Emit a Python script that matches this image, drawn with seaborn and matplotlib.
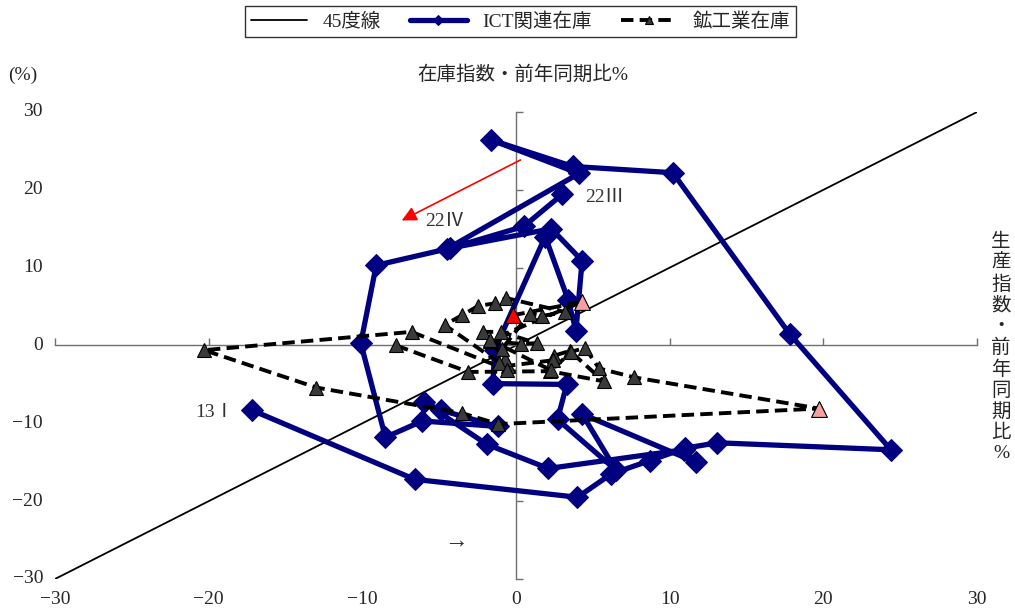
import numpy as np
import pandas as pd
import matplotlib
matplotlib.use("Agg")
import matplotlib.pyplot as plt
import seaborn as sns

# ICT関連在庫 (x: 生産指数 前年同期比, y: 在庫指数 前年同期比), 13I -> 22III
ict_x = [-17.2, -6.6, 4.0, 6.2, 8.7, 11.0, 13.1, 24.4, 17.8, 10.2,
         3.7, -1.6, 4.1, -4.5, -9.1, -10.1, -8.5, -6.1, -1.2, -4.9,
         -6.0, -1.9, 2.1, 10.9, 11.7, 4.3, 6.5, 2.7, 3.3, -1.5,
         -1.4, 1.9, 3.4, 3.9, 4.3, 2.3, -4.3, 0.5, 3.0]
ict_y = [-8.3, -17.2, -19.5, -16.5, -14.8, -13.2, -12.5, -13.4, 1.5, 22.2,
         23.0, 26.4, 22.1, 12.4, 10.3, 0.3, -11.8, -9.7, -10.4, -8.3,
         -7.3, -12.7, -15.8, -13.4, -15.0, -8.8, -16.0, -9.5, -5.0, -4.9,
         -0.6, 14.0, 5.8, 1.9, 10.9, 15.0, 12.5, 15.3, 19.4]

# 鉱工業在庫
min_x = [-7.8, -3.1, 2.2, 5.7, 3.5, 2.5, 2.4, -0.5, -0.7, -1.7,
         0.3, 1.35, -1.0, -2.15, -0.9, 0.9, 1.7, 3.2, -0.65, -1.4,
         -2.45, -3.5, -4.65, -1.1, -0.6, -6.8, -20.3, -13.0, -3.5, -1.15,
         19.7, 7.7, 5.4, 4.5, 3.6, 2.3, -1.7, 4.27, -0.17]
min_y = [0.0, -3.4, -3.3, -4.6, -0.7, -1.3, -1.9, -2.6, -1.7, 0.6,
         0.2, 0.3, 1.75, 1.75, -0.4, 4.1, 3.8, 4.3, 6.1, 5.4,
         5.1, 3.9, 2.65, -2.2, -3.1, 1.75, -0.6, -5.4, -8.7, -10.1,
         -8.1, -4.1, -2.95, -0.3, -0.8, -3.2, 0.7, 5.6, 3.9]
pink_idx = [30, 37]
red_idx = [38]

ticks = [-30, -20, -10, 0, 10, 20, 30]
line45 = [-30, 30]

sns.set_theme(style="white")
plt.rcParams['font.family'] = ['Liberation Serif', 'Noto Sans CJK JP', 'DejaVu Sans']
plt.rcParams['axes.unicode_minus'] = False

fig = plt.figure(figsize=(10.15, 6.13), dpi=100)
ax = fig.add_axes([0.0542, 0.0555, 0.9084, 0.7618])

ict = pd.DataFrame({'x': ict_x, 'y': ict_y})
mining = pd.DataFrame({'x': min_x, 'y': min_y})

# 45度線
sns.lineplot(x=line45, y=line45, ax=ax, color='black', lw=1.3, label='45度線', zorder=2)

sns.lineplot(data=ict, x='x', y='y', sort=False, estimator=None, ax=ax,
             color='#000080', lw=3.8, marker='D', markersize=11,
             markeredgecolor='#000080', label='ICT関連在庫', zorder=3)

sns.lineplot(data=mining, x='x', y='y', sort=False, estimator=None, ax=ax,
             color='black', lw=2.8, linestyle=(0, (3.2, 1.6)), marker='^', markersize=10.5,
             markerfacecolor='#3a3a3a', markeredgecolor='black', markeredgewidth=0.8,
             label='鉱工業在庫', zorder=4)

sns.scatterplot(data=mining.iloc[pink_idx], x='x', y='y', ax=ax, marker='^', s=130,
                color='#f4a0a0', edgecolor='black', linewidth=0.8, zorder=5, legend=False)
sns.scatterplot(data=mining.iloc[red_idx], x='x', y='y', ax=ax, marker='^', s=130,
                color='#ff0000', edgecolor='black', linewidth=0.8, zorder=5, legend=False)

ax.set_xlim(-30, 30)
ax.set_ylim(-30, 30)
ax.set_xticks(ticks)
ax.set_yticks(ticks)
ax.set_xlabel('')
ax.set_ylabel('')

for side in ['top', 'right']:
    ax.spines[side].set_visible(False)
ax.spines['left'].set_position(('data', 0))
ax.spines['bottom'].set_position(('data', 0))
for side in ['left', 'bottom']:
    ax.spines[side].set_color('#707070')
    ax.spines[side].set_linewidth(1.0)
ax.tick_params(axis='both', direction='in', length=5, width=1, color='#707070',
               labelleft=False, labelbottom=False, left=True, bottom=True)

for t in ticks:
    ax.text(-0.013, t, str(t).replace('-', '−'), transform=ax.get_yaxis_transform(),
            ha='right', va='center', fontsize=14)
    ax.text(t, -0.025, str(t).replace('-', '−'), transform=ax.get_xaxis_transform(),
            ha='center', va='top', fontsize=14)

# annotations
ax.annotate('', xy=(-7.6, 15.9), xytext=(0.45, 24.0),
            arrowprops=dict(arrowstyle='-|>', color='red', lw=1.2, mutation_scale=22))
ax.text(4.5, 19.0, '22Ⅲ', fontsize=14, color='#333333', va='center')
ax.text(-5.9, 15.9, '22Ⅳ', fontsize=14, color='#333333', va='center')
ax.text(-20.9, -8.6, '13Ⅰ', fontsize=14, color='#333333', va='center')
ax.text(-4.7, -25.1, '→', fontsize=17, color='#333333', va='center')

fig.text(523 / 1015, 1 - 75 / 613, '在庫指数・前年同期比%', ha='center', va='center', fontsize=14)
fig.text(8 / 1015, 1 - 75 / 613, '(%)', ha='left', va='center', fontsize=14)
fig.text(1001 / 1015, 1 - 348 / 613, '\n'.join('生産指数・前年同期比%'), ha='center',
         va='center', fontsize=14, linespacing=1.25)

leg = ax.legend(loc='center', bbox_to_anchor=(520.5 / 1015, 1 - 21.5 / 613),
                bbox_transform=fig.transFigure, ncol=3, frameon=True, fancybox=False,
                edgecolor='black', fontsize=14, handlelength=2.9, columnspacing=1.5,
                markerscale=0.5, borderpad=0.3)
leg.get_frame().set_linewidth(1.0)

fig.savefig('out.png', dpi=100)
